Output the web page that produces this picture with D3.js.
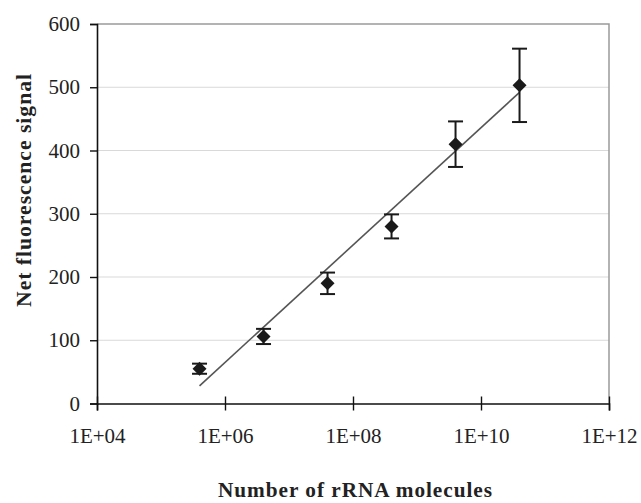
<!DOCTYPE html>
<html>
<head>
<meta charset="utf-8">
<script src="https://cdn.jsdelivr.net/npm/d3@7"></script>
<style>
  body { margin: 0; background: #fff; }
  svg { display: block; }
  .axis text { font-family: "Liberation Serif", "Times New Roman", serif; font-size: 21px; fill: #222; }
  .title { font-family: "Liberation Serif", "Times New Roman", serif; font-weight: bold; font-size: 22px; fill: #222; }
</style>
</head>
<body>
<svg width="641" height="503"></svg>
<script>
// rRNA copies vs net signal
var molecules = [4e5, 4e6, 4e7, 4e8, 4e9, 4e10];
var signal = [55, 106, 190, 280, 410, 503];
var errors = [8, 12, 17, 19, 36, 58];

// log-linear trend line endpoints
var trendX = [4e5, 4e10];
var trendY = [28, 492];

var xTicks = [1e4, 1e6, 1e8, 1e10, 1e12];
var yTicks = [0, 100, 200, 300, 400, 500, 600];

var svg = d3.select("svg");

var x = d3.scaleLog().domain([1e4, 1e12]).range([97, 609]);
var y = d3.scaleLinear().domain([0, 600]).range([403.5, 24]);

// gridlines
svg.append("g")
  .selectAll("line")
  .data(yTicks.filter(function (d) { return d > 0 && d < 600; }))
  .enter().append("line")
  .attr("x1", x.range()[0])
  .attr("x2", x.range()[1])
  .attr("y1", function (d) { return y(d); })
  .attr("y2", function (d) { return y(d); })
  .attr("stroke", "#d9d9d9")
  .attr("stroke-width", 1);

// top and right frame
svg.append("path")
  .attr("d", "M" + x.range()[0] + "," + y(600) + "H" + x.range()[1] + "V" + y(0))
  .attr("fill", "none")
  .attr("stroke", "#9a9a9a")
  .attr("stroke-width", 1.5);

// axes
var xAxis = svg.append("g")
  .attr("class", "axis")
  .attr("transform", "translate(0," + y(0) + ")")
  .call(d3.axisBottom(x)
    .tickValues(xTicks)
    .tickSize(7)
    .tickPadding(18)
    .tickFormat(function (d) {
      return "1E+" + String(Math.round(Math.log10(d))).padStart(2, "0");
    }));
xAxis.selectAll(".tick line").attr("y1", -7);

var yAxis = svg.append("g")
  .attr("class", "axis")
  .attr("transform", "translate(" + x.range()[0] + ",0)")
  .call(d3.axisLeft(y).tickValues(yTicks).tickSize(7).tickPadding(10));

svg.selectAll(".axis path.domain").attr("stroke", "#111").attr("stroke-width", 1.6);
svg.selectAll(".axis .tick line").attr("stroke", "#111").attr("stroke-width", 1.4);

// trend line
var line = d3.line()
  .x(function (d) { return x(d[0]); })
  .y(function (d) { return y(d[1]); });

svg.append("path")
  .datum(d3.zip(trendX, trendY))
  .attr("d", line)
  .attr("fill", "none")
  .attr("stroke", "#555")
  .attr("stroke-width", 1.6);

// error bars
var pts = d3.range(molecules.length).map(function (i) {
  return {m: molecules[i], v: signal[i], e: errors[i]};
});

var bars = svg.append("g")
  .attr("stroke", "#1a1a1a")
  .attr("stroke-width", 2)
  .selectAll("g")
  .data(pts)
  .enter().append("g");

bars.append("line")
  .attr("x1", function (d) { return x(d.m); })
  .attr("x2", function (d) { return x(d.m); })
  .attr("y1", function (d) { return y(d.v - d.e); })
  .attr("y2", function (d) { return y(d.v + d.e); });

[-1, 1].forEach(function (s) {
  bars.append("line")
    .attr("x1", function (d) { return x(d.m) - 7.5; })
    .attr("x2", function (d) { return x(d.m) + 7.5; })
    .attr("y1", function (d) { return y(d.v + s * d.e); })
    .attr("y2", function (d) { return y(d.v + s * d.e); });
});

// diamond markers
var diamond = d3.symbol().type(d3.symbolSquare).size(98);

svg.append("g")
  .selectAll("path")
  .data(pts)
  .enter().append("path")
  .attr("d", diamond)
  .attr("transform", function (d) {
    return "translate(" + x(d.m) + "," + y(d.v) + ") rotate(45)";
  })
  .attr("fill", "#1a1a1a");

// axis titles
svg.append("text")
  .attr("class", "title")
  .attr("text-anchor", "middle")
  .attr("x", 355.5)
  .attr("y", 497)
  .attr("letter-spacing", 1)
  .attr("textLength", 275)
  .attr("lengthAdjust", "spacingAndGlyphs")
  .text("Number of rRNA molecules");

svg.append("text")
  .attr("class", "title")
  .attr("text-anchor", "middle")
  .attr("transform", "translate(31,190) rotate(-90)")
  .attr("letter-spacing", 1)
  .attr("textLength", 234)
  .attr("lengthAdjust", "spacingAndGlyphs")
  .text("Net fluorescence signal");
</script>
</body>
</html>
